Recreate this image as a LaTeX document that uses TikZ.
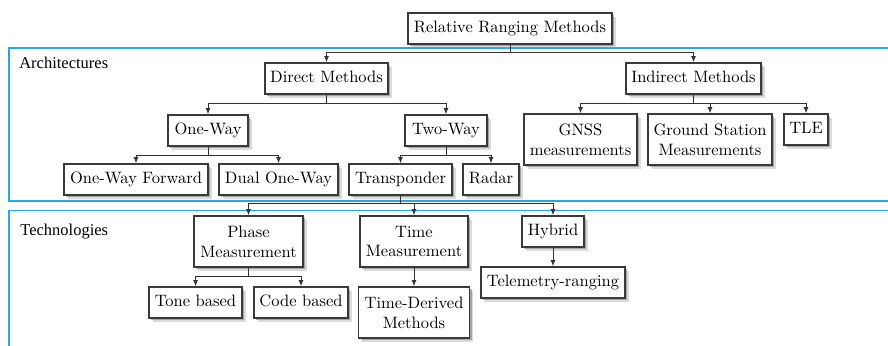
\documentclass[tikz,border=0pt]{standalone}
\usepackage{fontspec}
\newfontfamily\labelfont{Liberation Serif}
\usetikzlibrary{arrows.meta,shadows}
\definecolor{framecol}{HTML}{2AA7E1}
\definecolor{boxcol}{HTML}{3A3A3A}
\def\pu{0.606pt}
\tikzset{
  box/.style={draw=boxcol, line width=0.85pt, fill=white, inner xsep=2pt, inner ysep=0pt,
    align=center, font=\normalsize,
    drop shadow={shadow xshift=2.2pt, shadow yshift=-2.2pt, fill=black!40, opacity=0.35},
    drop shadow={shadow xshift=1.5pt, shadow yshift=-1.5pt, fill=black!50, opacity=0.6}},
  one/.style={box, minimum height=31*\pu, text height=7pt, text depth=2pt},
  two/.style={box, minimum height=51*\pu},
  link/.style={draw=black!80, line width=0.5pt},
  arr/.style={link, -{Latex[length=3.8pt,width=3pt]}},
  frame/.style={draw=framecol, line width=0.9pt},
  tag/.style={font=\labelfont, anchor=west, inner sep=0pt}
}
\begin{document}
\begin{tikzpicture}[x=\pu, y=-\pu]
\useasboundingbox (0,0) rectangle (888,346);

% section frames, open on the right (and at the bottom for the lower one)
\draw[frame] (892,48) -- (9,48) -- (9,201) -- (892,201);
\draw[frame] (892,210.5) -- (9,210.5) -- (9,352);
\node[tag] (archlbl) at (19,63) {Architectures};
\node[tag] (techlbl) at (20,232) {Technologies};

% architecture tree
\node[one, minimum width=204*\pu] (rrm) at (510,28.5) {Relative Ranging Methods};
\node[one, minimum width=123*\pu] (direct) at (326.5,78.5) {Direct Methods};
\node[one, minimum width=135*\pu] (indirect) at (693.5,78.5) {Indirect Methods};
\node[one, minimum width=80*\pu] (oneway) at (208,130.5) {One-Way};
\node[one, minimum width=82*\pu] (twoway) at (446,130.5) {Two-Way};
\node[two, minimum width=113*\pu] (gnss) at (580.5,139.5) {GNSS\\measurements};
\node[two, minimum width=124*\pu] (ground) at (710,139.5) {Ground Station\\Measurements};
\node[one, minimum width=44*\pu] (tle) at (806,129.5) {TLE};
\node[one, minimum width=144*\pu] (owf) at (136,179.5) {One-Way Forward};
\node[one, minimum width=119*\pu] (dow) at (278.5,179.5) {Dual One-Way};
\node[one, minimum width=103*\pu] (transp) at (400.5,179.5) {Transponder};
\node[one, minimum width=56*\pu] (radar) at (491,179.5) {Radar};

% technology tree
\node[two, minimum width=109*\pu] (phase) at (248.5,241.5) {Phase\\Measurement};
\node[two, minimum width=108*\pu] (time) at (414,241.5) {Time\\Measurement};
\node[one, minimum width=62*\pu] (hybrid) at (553,231.5) {Hybrid};
\node[one, minimum width=93*\pu] (tone) at (195.5,302.5) {Tone based};
\node[one, minimum width=94*\pu] (code) at (301,302.5) {Code based};
\node[two, minimum width=111*\pu] (tdm) at (414,312.5) {Time-Derived\\Methods};
\node[one, minimum width=144*\pu] (tel) at (553,282.5) {Telemetry-ranging};

% connectors
\foreach \t in {direct,indirect} \draw[arr] (rrm.south) -- ++(0,8) -| (\t.north);
\foreach \t in {oneway,twoway} \draw[arr] (direct.south) -- ++(0,9) -| (\t.north);
\foreach \t in {gnss,ground,tle} \draw[arr] (indirect.south) -- ++(0,9) -| (\t.north);
\foreach \t in {owf,dow} \draw[arr] (oneway.south) -- ++(0,9) -| (\t.north);
\foreach \t in {transp,radar} \draw[arr] (twoway.south) -- ++(0,9) -| (\t.north);
\foreach \t in {phase,time,hybrid} \draw[arr] (transp.south) -- ++(0,8) -| (\t.north);
\foreach \t in {tone,code} \draw[arr] (phase.south) -- ++(0,9) -| (\t.north);
\draw[arr] (time.south) -- (tdm.north);
\draw[arr] (hybrid.south) -- (tel.north);
\end{tikzpicture}
\end{document}
